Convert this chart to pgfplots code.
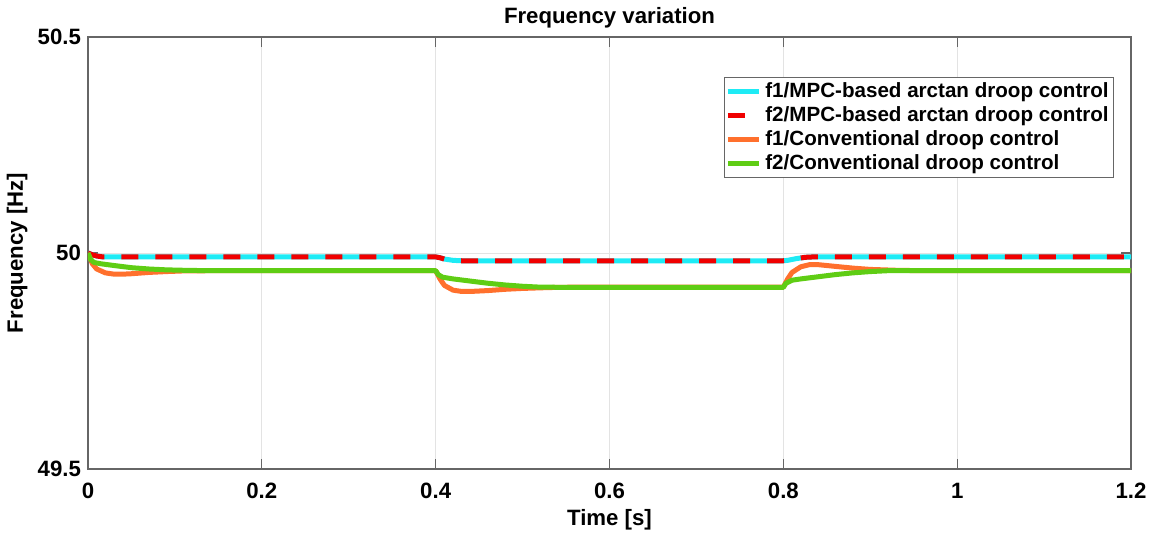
\documentclass[border=0pt]{standalone}
\usepackage{fontspec}
\setmainfont{Liberation Sans}
\usepackage{pgfplots}
\pgfplotsset{compat=1.18}
\definecolor{cMpcA}{RGB}{30,235,245}
\definecolor{cMpcB}{RGB}{240,0,0}
\definecolor{cConA}{RGB}{255,112,45}
\definecolor{cConB}{RGB}{95,205,20}
\newcommand\lab{\fontsize{11.1}{13}\selectfont\bfseries}
\newcommand\leg{\fontsize{10.3}{12}\selectfont\bfseries}
\begin{document}
\begin{tikzpicture}
\begin{axis}[
  scale only axis, width=521.5pt, height=216pt,
  xmin=0, xmax=1.2, ymin=49.5, ymax=50.5,
  xtick={0,0.2,...,1.2}, ytick={49.5,50,50.5},
  /pgf/number format/assume math mode=true,
  tick label style={font=\lab},
  x tick label style={yshift=-3.5pt},
  tick align=inside, major tick length=5pt,
  axis line style={gray!80!black, line width=0.8pt},
  tick style={gray!80!black, line width=0.6pt},
  grid=major, grid style={gray!22, line width=0.5pt},
  every axis title shift=0pt,
  title={Frequency variation},
  title style={font=\lab, at={(axis description cs:0.5,1.044)}, anchor=center, yshift=0pt},
  xlabel={Time [s]},
  xlabel style={font=\lab, at={(axis description cs:0.5,-0.118)}, anchor=center},
  ylabel={Frequency [Hz]},
  ylabel style={font=\lab, at={(axis description cs:-0.068,0.5)}, anchor=center},
  legend style={at={(axis description cs:0.984,0.907)}, anchor=north east,
    draw=gray!80!black, line width=0.6pt, font=\leg, inner sep=0.5pt,
    row sep=-1pt, cells={anchor=west}},
  legend image code/.code={\draw[#1] (0cm,0cm) -- (15.5pt,0cm);},
  every axis plot/.append style={line width=2.5pt, line join=round},
]
\addplot[cMpcA] coordinates {
  (0,50.0) (0.005,49.996) (0.01,49.993) (0.017,49.991) (0.4,49.991)
  (0.405,49.989) (0.41,49.986) (0.42,49.983) (0.43,49.982) (0.8,49.982)
  (0.805,49.983) (0.815,49.987) (0.825,49.990) (0.835,49.991) (1.2,49.991)
};
\addlegendentry{f1/MPC-based arctan droop control}
\addplot[cMpcB, dash pattern=on 8.5pt off 8.5pt] coordinates {
  (0,50.0) (0.005,49.996) (0.01,49.993) (0.017,49.991) (0.4,49.991)
  (0.405,49.989) (0.41,49.986) (0.42,49.983) (0.43,49.982) (0.8,49.982)
  (0.805,49.983) (0.815,49.987) (0.825,49.990) (0.835,49.991) (1.2,49.991)
};
\addlegendentry{f2/MPC-based arctan droop control}
\addplot[cConA] coordinates {
  (0,50.0) (0.005,49.975) (0.01,49.963) (0.02,49.954) (0.03,49.951)
  (0.04,49.951) (0.05,49.952) (0.07,49.955) (0.09,49.957) (0.11,49.9585)
  (0.14,49.959) (0.4,49.959)
  (0.405,49.940) (0.41,49.925) (0.42,49.914) (0.43,49.911) (0.44,49.911)
  (0.46,49.913) (0.48,49.916) (0.5,49.918) (0.53,49.920) (0.56,49.921)
  (0.8,49.921)
  (0.805,49.940) (0.81,49.955) (0.82,49.968) (0.83,49.973) (0.84,49.973)
  (0.86,49.969) (0.88,49.965) (0.9,49.962) (0.93,49.960) (0.96,49.959)
  (1.2,49.959)
};
\addlegendentry{f1/Conventional droop control}
\addplot[cConB] coordinates {
  (0,50.0) (0.003,49.985) (0.007,49.978) (0.015,49.975) (0.03,49.971)
  (0.05,49.966) (0.07,49.963) (0.09,49.961) (0.11,49.960) (0.14,49.959)
  (0.4,49.959)
  (0.403,49.950) (0.408,49.944) (0.42,49.940) (0.44,49.935) (0.46,49.930)
  (0.48,49.926) (0.5,49.923) (0.52,49.921) (0.55,49.9205) (0.8,49.9205)
  (0.803,49.930) (0.81,49.937) (0.82,49.940) (0.84,49.945) (0.86,49.950)
  (0.88,49.954) (0.9,49.957) (0.92,49.959) (1.2,49.959)
};
\addlegendentry{f2/Conventional droop control}
\end{axis}
\pgfresetboundingbox
\path[use as bounding box] (-44pt,-33pt) rectangle (533pt,234.5pt);
\end{tikzpicture}
\end{document}
